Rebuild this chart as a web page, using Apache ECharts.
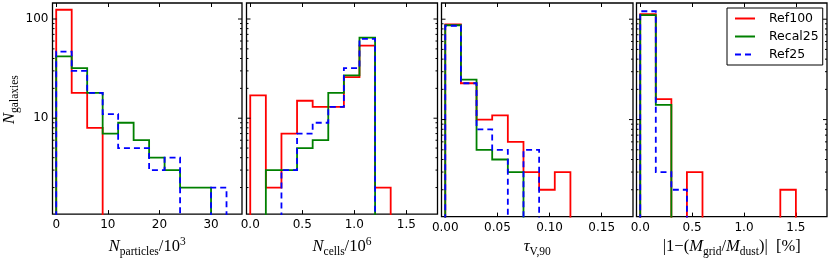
<!DOCTYPE html>
<html><head><meta charset="utf-8">
<script src="https://cdn.jsdelivr.net/npm/echarts@6/dist/echarts.min.js"></script>
<style>html,body{margin:0;padding:0;background:#fff}#c{width:830px;height:263px}</style>
</head><body><div id="c"></div>
<script>
// ---------------- data ----------------
const seriesNames = ['Ref100', 'Recal25', 'Ref25'];

const edgesParticles = [0, 3, 6, 9, 12, 15, 18, 21, 24, 27, 30, 33];
const ref100Particles = [124, 18, 8, 0, 0, 0, 0, 0, 0, 0, 0];
const recal25Particles = [42, 32, 18, 7, 9, 6, 4, 3, 2, 2, 0];
const ref25Particles = [47, 30, 18, 11, 5, 5, 3, 4, 0, 0, 2];

const edgesCells = [0, 0.15, 0.3, 0.45, 0.6, 0.75, 0.9, 1.05, 1.2, 1.35];
const ref100Cells = [17, 2, 7, 15, 13, 13, 26, 54, 2];
const recal25Cells = [0, 3, 3, 5, 6, 18, 27, 65, 0];
const ref25Cells = [0, 0, 3, 7, 9, 13, 32, 63, 0];

const edgesTau = [0, 0.015, 0.03, 0.045, 0.06, 0.075, 0.09, 0.105, 0.12];
const ref100Tau = [89, 23, 10, 11, 6, 3, 2, 3];
const recal25Tau = [87, 25, 5, 4, 3, 0, 0, 0];
const ref25Tau = [86, 23, 8, 5, 0, 5, 0, 0];

const edgesMass = [0, 0.15, 0.3, 0.45, 0.6, 0.75, 0.9, 1.05, 1.2, 1.35, 1.5];
const ref100Mass = [112, 16, 0, 3, 0, 0, 0, 0, 0, 2];
const recal25Mass = [110, 14, 0, 0, 0, 0, 0, 0, 0, 0];
const ref25Mass = [120, 3, 2, 0, 0, 0, 0, 0, 0, 0];

const xTicksParticles = [0, 10, 20, 30];
const xTicksCells = [0, 0.5, 1.0, 1.5];
const xTicksTau = [0, 0.05, 0.10, 0.15];
const xTicksMass = [0, 0.5, 1.0, 1.5];
const yTickLabels = [10, 100];
const yMinorTicks = [2, 3, 4, 5, 6, 7, 8, 9, 20, 30, 40, 50, 60, 70, 80, 90];

// ---------------- layout / style ----------------
const SERIF = 'Liberation Serif';
const SANS = 'DejaVu Sans';
const colors = ['#ff0000', '#008000', '#0000ff'];
const dashes = ['solid', 'solid', [6, 4]];
const Y_MIN = 1.08, Y_MAX = 145, FLOOR = 0.5;

const rich = {
  i: {fontFamily: SERIF, fontStyle: 'italic', fontSize: 16.5, lineHeight: 22, color: '#000'},
  r: {fontFamily: SERIF, fontSize: 16.5, lineHeight: 22, color: '#000'},
  sub: {fontFamily: SERIF, fontSize: 11.5, lineHeight: 12, verticalAlign: 'bottom', color: '#000'},
  sup: {fontFamily: SERIF, fontSize: 11.5, lineHeight: 12, verticalAlign: 'top', color: '#000'}
};

const panels = [
  {left: 51, width: 191, xmin: -0.72, xmax: 36, ticks: xTicksParticles, dec: 0,
   edges: edgesParticles, sets: [ref100Particles, recal25Particles, ref25Particles],
   title: '{i|N}{sub|particles}{r|/10}{sup|3}'},
  {left: 246.5, width: 191, xmin: -0.036, xmax: 1.8, ticks: xTicksCells, dec: 1,
   edges: edgesCells, sets: [ref100Cells, recal25Cells, ref25Cells],
   title: '{i|N}{sub|cells}{r|/10}{sup|6}'},
  {left: 441.5, width: 191.5, xmin: -0.0036, xmax: 0.18, ticks: xTicksTau, dec: 2,
   edges: edgesTau, sets: [ref100Tau, recal25Tau, ref25Tau],
   title: '{i|τ}{sub|V,90}'},
  {left: 636.5, width: 190.5, xmin: -0.036, xmax: 1.8, ticks: xTicksMass, dec: 1,
   edges: edgesMass, sets: [ref100Mass, recal25Mass, ref25Mass],
   title: '{r|\u007c1\u2212(}{i|M}{sub|grid}{r|/}{i|M}{sub|dust}{r|)\u007c  [%]}'}
];

function stepPath(edges, counts) {
  let n = counts.length;
  while (n > 0 && counts[n - 1] === 0) n--;
  const pts = [[edges[0], FLOOR]];
  for (let k = 0; k < n; k++) {
    const c = counts[k] > 0 ? counts[k] : FLOOR;
    pts.push([edges[k], c]);
    pts.push([edges[k + 1], c]);
  }
  pts.push([edges[n], FLOOR]);
  return pts;
}

function tickSeries(gi, values, len, xmin, xmax) {
  return {
    type: 'custom', xAxisIndex: 2 * gi, yAxisIndex: gi, silent: true, z: 6, clip: false,
    data: values.map(v => [xmin, v]),
    renderItem: (params, api) => {
      const v = api.value(1);
      const a = api.coord([xmin, v]), b = api.coord([xmax, v]);
      return {type: 'group', children: [
        {type: 'line', shape: {x1: a[0], y1: a[1], x2: a[0] + len, y2: a[1]}, style: {stroke: '#000', lineWidth: 1}},
        {type: 'line', shape: {x1: b[0] - len, y1: b[1], x2: b[0], y2: b[1]}, style: {stroke: '#000', lineWidth: 1}}
      ]};
    }
  };
}

const grid = [], xAxis = [], yAxis = [], series = [];
panels.forEach((p, gi) => {
  grid.push({left: p.left, top: 3, width: p.width, height: 215, show: true,
             borderColor: '#000', borderWidth: 1.3, backgroundColor: '#fff'});
  xAxis.push({
    type: 'value', gridIndex: gi, min: p.xmin, max: p.xmax, position: 'bottom',
    axisLine: {show: false, onZero: false},
    axisTick: {show: true, inside: true, length: 4, customValues: p.ticks, lineStyle: {color: '#000', width: 1}},
    axisLabel: {customValues: p.ticks, formatter: v => v.toFixed(p.dec), margin: 5,
                fontFamily: SANS, fontSize: 12, color: '#000'},
    splitLine: {show: false},
    name: p.title, nameLocation: 'middle', nameGap: 19,
    nameTextStyle: {rich: rich}
  });
  xAxis.push({
    type: 'value', gridIndex: gi, min: p.xmin, max: p.xmax, position: 'top',
    axisLine: {show: false, onZero: false},
    axisTick: {show: true, inside: true, length: 4, customValues: p.ticks, lineStyle: {color: '#000', width: 1}},
    axisLabel: {show: false}, splitLine: {show: false}
  });
  const ya = {
    type: 'log', logBase: 10, gridIndex: gi, min: Y_MIN, max: Y_MAX,
    axisLine: {show: false}, axisTick: {show: false}, splitLine: {show: false}, minorTick: {show: false},
    axisLabel: {show: gi === 0, margin: 4, fontFamily: SANS, fontSize: 12, color: '#000',
      showMinLabel: false, showMaxLabel: false,
      formatter: v => {
        const hit = yTickLabels.find(t => Math.abs(v - t) / t < 1e-6);
        return hit ? String(hit) : '';
      }}
  };
  if (gi === 0) {
    ya.name = '{i|N}{sub|galaxies}';
    ya.nameLocation = 'middle';
    ya.nameRotate = 90;
    ya.nameGap = 32;
    ya.nameTextStyle = {rich: rich, padding: [0, 0, 0, 18]};
  }
  yAxis.push(ya);

  p.sets.forEach((counts, si) => {
    series.push({
      name: seriesNames[si], type: 'line', xAxisIndex: 2 * gi, yAxisIndex: gi,
      data: stepPath(p.edges, counts), symbol: 'none', showSymbol: false,
      color: colors[si], z: 2 + si, clip: true,
      lineStyle: {color: colors[si], width: 1.8, type: dashes[si], join: 'miter', cap: 'butt'}
    });
  });
  series.push(tickSeries(gi, yTickLabels, 4, p.xmin, p.xmax));
  series.push(tickSeries(gi, yMinorTicks, 2, p.xmin, p.xmax));
});

const chart = echarts.init(document.getElementById('c'), null, {renderer: 'canvas'});
chart.setOption({
  animation: false,
  backgroundColor: '#fff',
  grid, xAxis, yAxis, series,
  legend: {
    data: seriesNames, orient: 'vertical', left: 727, top: 8,
    padding: [4, 4, 4, 7], itemWidth: 20, itemHeight: 14, itemGap: 5,
    borderColor: '#000', borderWidth: 1, backgroundColor: '#fff', selectedMode: false,
    itemStyle: {opacity: 0},
    lineStyle: {width: 2},
    textStyle: {fontFamily: SANS, fontSize: 12.5, color: '#000', padding: [0, 0, 0, 9]}
  }
});
</script>
</body></html>
